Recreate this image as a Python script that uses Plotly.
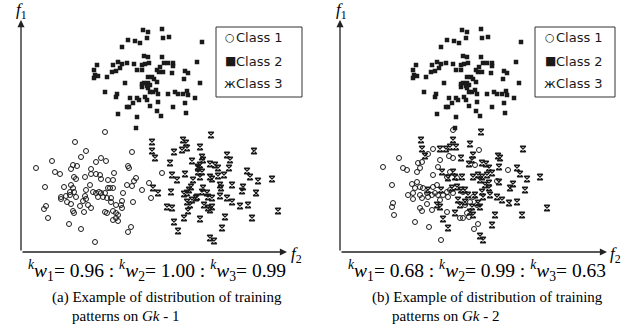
import plotly.graph_objects as go

# ---------------- data (feature units) ----------------
# Class 2 (same samples in both panels)
c2_f2 = [122,127,141,107,114,119,126,142,148,181, 101,123,127,141,76,92,97,101,106,113,
         121,124,128,139,143,147,152,152,176,73, 74,77,73,86,91,95,99,116,121,136,
         138,142,151,164,167,127,131,133,104,121, 123,127,129,136,179,163,84,96,95,127,
         129,132,135,137,121,126,109,116,118,124, 126,147,154,157,162,166,167,174,137,112,
         106,108,129,152,164,136,140,97,116,165, 115]
c2_f1 = [222,220,223,212,211,209,214,214,215,210, 205,196,195,195,187,187,190,188,189,188,
         187,188,189,185,189,189,189,186,190,182, 177,176,174,175,180,181,184,182,182,182,
         180,180,179,181,179,175,175,173,169,168, 169,169,167,170,169,173,160,158,155,164,
         160,160,162,158,165,166,154,154,152,155, 152,158,160,158,158,161,157,154,150,149,
         145,145,146,145,149,141,136,138,135,139, 124]

# Panel (a)
c1a_f2 = [84,54,65,60,31,15,34,39,52,56, 50,53,64,70,70,75,80,85,75,79,
          80,87,92,93,69,65,24,43,50,52, 49,53,40,40,45,49,55,64,65,62,
          72,75,78,80,84,87,89,77,82,86, 90,46,50,59,67,70,90,95,25,23,
          52,53,63,84,86,92,95,27,92,95, 48,60,74,92,55,
          111,107,108,141,115,113,106,111,128,121, 102,130,101,112,100,101,97,97,107,110]
c1a_f1 = [120,110,101,95,91,84,80,78,87,86, 83,75,75,83,78,90,94,91,78,77,
          73,72,72,79,67,62,65,65,67,64, 60,60,55,53,56,57,55,56,53,51,
          60,59,60,59,59,64,64,55,55,54, 54,50,48,46,47,44,50,47,46,43,
          41,39,40,40,39,41,39,34,32,34, 28,23,10,64,73,
          100,86,84,79,74,71,67,66,69,62, 59,54,51,50,47,44,37,31,20,25]
c3a_f2 = [131,131,134,162,165,166,161,153,149,171, 177,164,151,156,172,170,168,166,163,150,
          137,132,146,151,166,169,171,175,167,163, 153,157,177,
          190,179,233,181,182,206,209,179,177,189, 194,197,208,181,179,189,191,197,203,226,
          229,237,251,199,200,211,222,221,235,182, 181,186,187,191,176,199,206,211,219,227,
          183,187,191,189,179,204,231,257,201,189, 193]
c3a_f1 = [110,101,94,112,109,104,102,100,89,91, 85,78,77,72,72,65,62,59,58,60,
          59,64,45,44,50,47,52,54,41,34, 30,21,80,
          117,105,101,95,92,97,92,87,84,88, 87,84,84,80,75,75,73,76,77,81,
          75,71,73,67,64,67,65,61,59,64, 60,59,55,54,55,56,54,50,46,47,
          47,44,45,42,33,35,34,41,24,14, 11]

# Panel (b)
c1b_f2 = [113,93,88,109,113,59,43,63,67,78, 82,80,77,98,100,93,110,107,117,52,
          72,77,80,75,83,93,97,87,68,73, 80,82,73,88,92,95,98,103,107,110,
          113,100,108,53,52,80,82,87,92,120, 107,54,75,89,101,
          139,135,157,168,123,125,127,129,123,138, 134,130,137,133]
c1b_f1 = [122,103,98,96,94,94,85,84,82,89, 90,84,80,85,92,77,80,75,74,67,
          68,70,65,64,64,65,67,59,57,59, 57,54,53,55,57,59,57,57,60,62,
          59,52,55,49,45,44,41,48,42,34, 40,37,30,25,12,
          102,87,71,82,60,47,39,35,34,28, 23,50,47,55]
c3b_f2 = [81,82,85,100,106,110,116,113,121,102, 113,115,108,101,112,117,121,118,120,88,
          97,100,115,103,108,
          141,130,183,133,132,158,160,129,142,146, 149,159,177,180,187,200,122,133,138,142,
          140,147,152,145,149,149,159,173,170,185, 125,128,135,142,143,150,157,162,169,177,
          125,132,138,140,130,133,155,182,207,152, 140,143]
c3b_f1 = [112,103,96,103,103,105,105,112,94,80, 80,75,74,62,64,65,62,52,47,62,
          47,45,39,33,24,
          120,108,103,97,92,96,94,88,89,88, 84,85,84,78,73,75,75,75,77,75,
          72,77,79,67,69,64,70,68,64,62, 62,57,57,60,55,57,55,52,49,50,
          50,45,49,45,40,37,37,37,44,27, 16,12]

class_names = ["Class 1", "Class 2", "Class 3"]
legend_glyphs = ["○", "■", "ж"]
weights_a = ["0.96", "1.00", "0.99"]
weights_b = ["0.68", "0.99", "0.63"]
captions = [("(a) Example of distribution of training", "patterns on <i>Gk</i> - 1"),
            ("(b) Example of distribution of training", "patterns on <i>Gk</i> - 2")]

# ---------------- figure ----------------
W, H = 644, 329
def px(x):
    return x / W
def py(y):
    return 1 - y / H

INK = "#1a1a1a"
styles = [
    dict(symbol="circle-open", size=5, color=INK, line=dict(width=1, color=INK)),
    dict(symbol="square", size=4.5, color=INK, line=dict(width=0)),
    dict(symbol="hourglass-open", size=5.5, color=INK, line=dict(width=1.3, color=INK)),
]

fig = go.Figure()
panels = [
    ("x", "y", [(c1a_f2, c1a_f1), (c2_f2, c2_f1), (c3a_f2, c3a_f1)]),
    ("x2", "y2", [(c1b_f2, c1b_f1), (c2_f2, c2_f1), (c3b_f2, c3b_f1)]),
]
for xa, ya, series in panels:
    for i, (fx, fy) in enumerate(series):
        fig.add_trace(go.Scatter(x=fx, y=fy, mode="markers", marker=styles[i],
                                 name=class_names[i], xaxis=xa, yaxis=ya,
                                 showlegend=False, hoverinfo="skip"))

ydom = [py(252), py(20)]
fig.update_layout(
    width=W, height=H, margin=dict(l=0, r=0, t=0, b=0),
    paper_bgcolor="white", plot_bgcolor="white", showlegend=False,
    xaxis=dict(domain=[px(21), px(287)], range=[0, 266], visible=False, anchor="y"),
    yaxis=dict(domain=ydom, range=[0, 232], visible=False, anchor="x"),
    xaxis2=dict(domain=[px(340), px(607)], range=[0, 267], visible=False, anchor="y2"),
    yaxis2=dict(domain=ydom, range=[0, 232], visible=False, anchor="x2"),
)

ann = []
shapes = []
for xr, yr, xmax in [("x", "y", 266), ("x2", "y2", 267)]:
    ann.append(dict(x=xmax, y=0, ax=0, ay=0, xref=xr, yref=yr, axref=xr, ayref=yr,
                    text="", showarrow=True, arrowhead=2, arrowsize=1.1, arrowwidth=1.3,
                    arrowcolor="#222"))
    ann.append(dict(x=0, y=232, ax=0, ay=0, xref=xr, yref=yr, axref=xr, ayref=yr,
                    text="", showarrow=True, arrowhead=2, arrowsize=1.1, arrowwidth=1.3,
                    arrowcolor="#222"))

# legend boxes (drawn as a key with text glyphs)
sans = "DejaVu Sans"
for bx0, bx1, gx, tx in [(216, 302, 230, 234), (535, 615, 550, 554)]:
    shapes.append(dict(type="rect", xref="paper", yref="paper",
                       x0=px(bx0), x1=px(bx1), y0=py(97), y1=py(27),
                       line=dict(color="#333", width=1), fillcolor="white", layer="above"))
    for k, (g, name) in enumerate(zip(legend_glyphs, class_names)):
        yy = 38 + 23 * k
        gsize = [11, 12, 13][k]
        ann.append(dict(x=px(gx), y=py(yy), xref="paper", yref="paper", text=g,
                        showarrow=False, xanchor="center", yanchor="middle",
                        font=dict(family=sans, size=gsize, color=INK)))
        ann.append(dict(x=px(tx), y=py(yy), xref="paper", yref="paper", text=name,
                        showarrow=False, xanchor="left", yanchor="middle",
                        font=dict(family=sans, size=13, color=INK)))

serif = "Liberation Serif"
def wtext(ws):
    return " : ".join(f"<sup><i>k</i></sup><i>w</i><sub>{i+1}</sub>= {w}" for i, w in enumerate(ws))

for cx, ws in [(156.5, weights_a), (477, weights_b)]:
    ann.append(dict(x=px(cx), y=py(270), xref="paper", yref="paper", text=wtext(ws),
                    showarrow=False, xanchor="center", yanchor="middle",
                    font=dict(family=serif, size=19.5, color="black")))
for (x1, x2), (l1, l2) in zip([(50, 70), (370, 390)], captions):
    ann.append(dict(x=px(x1), y=py(297), xref="paper", yref="paper", text=l1,
                    showarrow=False, xanchor="left", yanchor="middle",
                    font=dict(family=serif, size=15, color="black")))
    ann.append(dict(x=px(x2), y=py(316), xref="paper", yref="paper", text=l2,
                    showarrow=False, xanchor="left", yanchor="middle",
                    font=dict(family=serif, size=15, color="black")))
for fx, f2x in [(21, 296), (342, 615)]:
    ann.append(dict(x=px(fx), y=py(11), xref="paper", yref="paper", text="<i>f</i><sub>1</sub>",
                    showarrow=False, xanchor="center", yanchor="middle",
                    font=dict(family=serif, size=17, color="black")))
    ann.append(dict(x=px(f2x), y=py(255), xref="paper", yref="paper", text="<i>f</i><sub>2</sub>",
                    showarrow=False, xanchor="center", yanchor="middle",
                    font=dict(family=serif, size=17, color="black")))
fig.update_layout(annotations=ann, shapes=shapes)

fig.write_html("out.html", config={"displayModeBar": False, "staticPlot": True},
               post_script="document.body.style.margin='0';")
